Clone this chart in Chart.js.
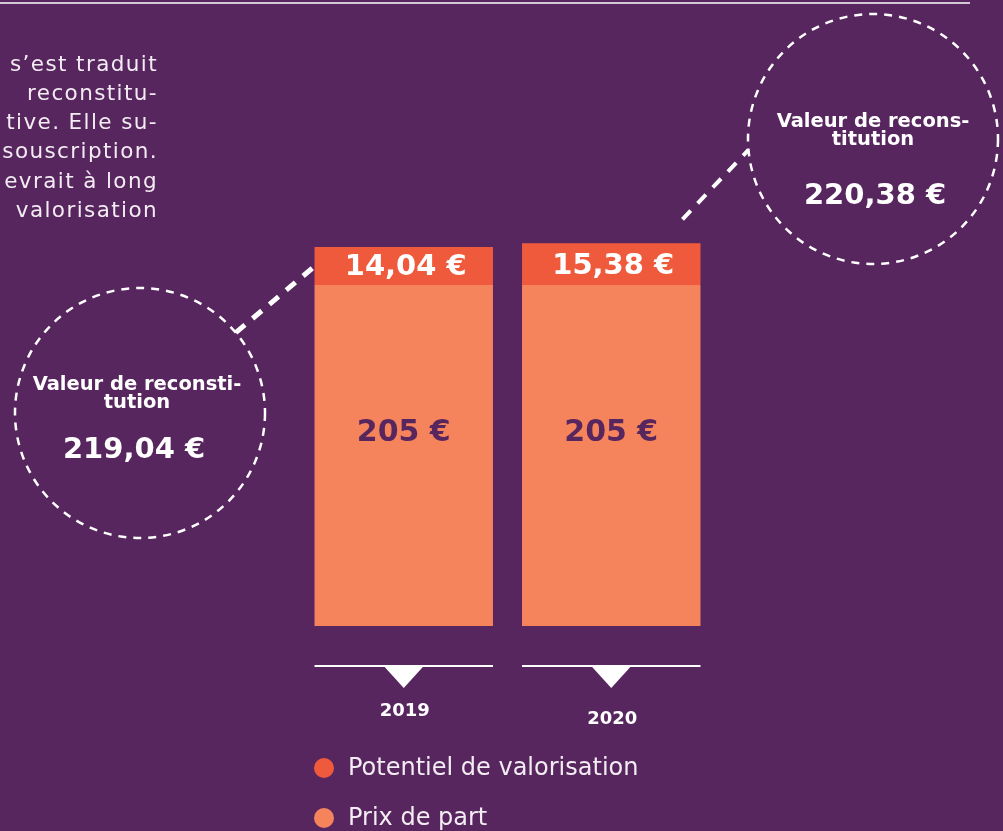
<!DOCTYPE html>
<html lang="fr">
<head>
    <meta charset="UTF-8">
    <title>Valeur de reconstitution</title>
    <script src="https://cdn.jsdelivr.net/npm/chart.js"></script>
    <style>
        body {
            margin: 0;
            padding: 0;
            background-color: #58265e;
            overflow: hidden;
        }

        #chartBox {
            width: 1003px;
            height: 831px;
        }
    </style>
</head>
<body>
    <div id="chartBox">
        <canvas id="valeurChart" width="1003" height="831"></canvas>
    </div>

    <script>
        // data
        const years = ['2019', '2020'];
        const prixDePart = [205, 205];
        const potentiel = [14.04, 15.38];
        const valeurReconstitution = [219.04, 220.38];
        const circleTitles = [['Valeur de reconsti-', 'tution'], ['Valeur de recons-', 'titution']];
        const introLines = ['s\u2019est traduit', 'reconstitu-', 'tive. Elle su-', 'souscription.', 'evrait à long', 'valorisation'];

        const BG = '#58265e';
        const ORANGE_DARK = '#f05a3c';
        const ORANGE_LIGHT = '#f5845c';
        const FONT = '"DejaVu Sans", sans-serif';

        function euro(v) {
            const s = Number.isInteger(v) ? String(v) : v.toFixed(2).replace('.', ',');
            return s + ' €';
        }

        function dashedCircle(ctx, cx, cy, r) {
            ctx.save();
            ctx.strokeStyle = '#ffffff';
            ctx.lineWidth = 2.5;
            ctx.setLineDash([8, 7]);
            ctx.beginPath();
            ctx.arc(cx, cy, r, 0, Math.PI * 2);
            ctx.stroke();
            ctx.restore();
        }

        function dashedLine(ctx, x1, y1, x2, y2, w) {
            ctx.save();
            ctx.strokeStyle = '#ffffff';
            ctx.lineWidth = w;
            ctx.setLineDash([12, 10]);
            ctx.beginPath();
            ctx.moveTo(x1, y1);
            ctx.lineTo(x2, y2);
            ctx.stroke();
            ctx.restore();
        }

        const decorPlugin = {
            id: 'decor',
            beforeDatasetsDraw(chart) {
                const ctx = chart.ctx;
                const topBars = chart.getDatasetMeta(1).data;

                // top rule
                ctx.save();
                ctx.strokeStyle = '#ffffff';
                ctx.lineWidth = 1.5;
                ctx.beginPath();
                ctx.moveTo(0, 3);
                ctx.lineTo(970, 3);
                ctx.stroke();

                // cut-off paragraph on the left
                ctx.fillStyle = '#f3ecf3';
                ctx.font = '21.5px ' + FONT;
                ctx.letterSpacing = '1.4px';
                ctx.textAlign = 'right';
                ctx.textBaseline = 'middle';
                introLines.forEach((line, i) => {
                    ctx.fillText(line, 158, 65 + i * 29.3);
                });
                ctx.restore();

                // connectors, drawn under the bars
                const b0 = topBars[0];
                const a0 = -40 * Math.PI / 180;
                dashedLine(ctx, 140 + 125 * Math.cos(a0), 413 + 125 * Math.sin(a0),
                    b0.x - b0.width / 2 + 4, b0.y + 16, 5);

                const b1 = topBars[1];
                const a1 = 175 * Math.PI / 180;
                dashedLine(ctx, b1.x + b1.width / 2 - 18, b1.y - 24,
                    873 + 125 * Math.cos(a1), 139 + 125 * Math.sin(a1), 4);
            },
            afterDatasetsDraw(chart) {
                const ctx = chart.ctx;
                const bottom = chart.chartArea.bottom;
                const baseBars = chart.getDatasetMeta(0).data;
                const topBars = chart.getDatasetMeta(1).data;

                ctx.save();
                ctx.textAlign = 'center';
                ctx.textBaseline = 'middle';

                // values inside the bars
                topBars.forEach((bar, i) => {
                    ctx.fillStyle = '#ffffff';
                    ctx.font = 'bold 29px ' + FONT;
                    ctx.fillText(euro(potentiel[i]), bar.x + 2, (bar.y + bar.base) / 2 + 2);
                });
                baseBars.forEach((bar, i) => {
                    ctx.fillStyle = BG;
                    ctx.font = 'bold 30px ' + FONT;
                    ctx.fillText(euro(prixDePart[i]), bar.x, bar.y + (bottom - bar.y) * 0.435);
                });

                // axis pieces with triangles, and the years
                baseBars.forEach((bar, i) => {
                    const left = bar.x - bar.width / 2;
                    const right = bar.x + bar.width / 2;
                    const y = bottom + 40;
                    ctx.strokeStyle = '#ffffff';
                    ctx.lineWidth = 2;
                    ctx.beginPath();
                    ctx.moveTo(left, y);
                    ctx.lineTo(right, y);
                    ctx.stroke();

                    ctx.fillStyle = '#ffffff';
                    ctx.beginPath();
                    ctx.moveTo(bar.x - 20, y);
                    ctx.lineTo(bar.x + 20, y);
                    ctx.lineTo(bar.x, y + 22);
                    ctx.closePath();
                    ctx.fill();

                    ctx.font = 'bold 18px ' + FONT;
                    ctx.fillText(chart.data.labels[i], bar.x + 1, y + 45 + i * 8);
                });

                // the two dashed circles
                dashedCircle(ctx, 140, 413, 125);
                dashedCircle(ctx, 873, 139, 125);

                ctx.fillStyle = '#ffffff';
                ctx.font = 'bold 19.5px ' + FONT;
                ctx.fillText(circleTitles[0][0], 137, 385);
                ctx.fillText(circleTitles[0][1], 137, 403);
                ctx.font = 'bold 29px ' + FONT;
                ctx.fillText(euro(valeurReconstitution[0]), 134, 450);

                ctx.font = 'bold 19.5px ' + FONT;
                ctx.fillText(circleTitles[1][0], 873, 122);
                ctx.fillText(circleTitles[1][1], 873, 140);
                ctx.font = 'bold 29px ' + FONT;
                ctx.fillText(euro(valeurReconstitution[1]), 875, 196);

                // legend, top segment first
                const items = [chart.data.datasets[1], chart.data.datasets[0]];
                ctx.textAlign = 'left';
                ctx.font = '24px ' + FONT;
                items.forEach((ds, i) => {
                    const y = 768 + i * 50;
                    ctx.fillStyle = ds.backgroundColor;
                    ctx.beginPath();
                    ctx.arc(324, y, 10, 0, Math.PI * 2);
                    ctx.fill();
                    ctx.fillStyle = '#f3ecf3';
                    ctx.fillText(ds.label, 348, y + 1);
                });

                ctx.restore();
            }
        };

        const ctx = document.getElementById('valeurChart').getContext('2d');
        const valeurChart = new Chart(ctx, {
            type: 'bar',
            data: {
                labels: years,
                datasets: [
                    {
                        label: 'Prix de part',
                        data: prixDePart,
                        backgroundColor: ORANGE_LIGHT,
                        borderWidth: 0,
                        barPercentage: 0.86,
                        categoryPercentage: 1
                    },
                    {
                        label: 'Potentiel de valorisation',
                        data: potentiel,
                        backgroundColor: ORANGE_DARK,
                        borderWidth: 0,
                        barPercentage: 0.86,
                        categoryPercentage: 1
                    }
                ]
            },
            options: {
                responsive: false,
                animation: false,
                layout: {
                    padding: { left: 300, right: 288, top: 236, bottom: 205 }
                },
                plugins: {
                    legend: { display: false },
                    tooltip: { enabled: false }
                },
                scales: {
                    x: {
                        stacked: true,
                        display: false
                    },
                    y: {
                        stacked: true,
                        display: false,
                        min: 78.7,
                        max: 223.1
                    }
                }
            },
            plugins: [decorPlugin]
        });
    </script>
</body>
</html>
